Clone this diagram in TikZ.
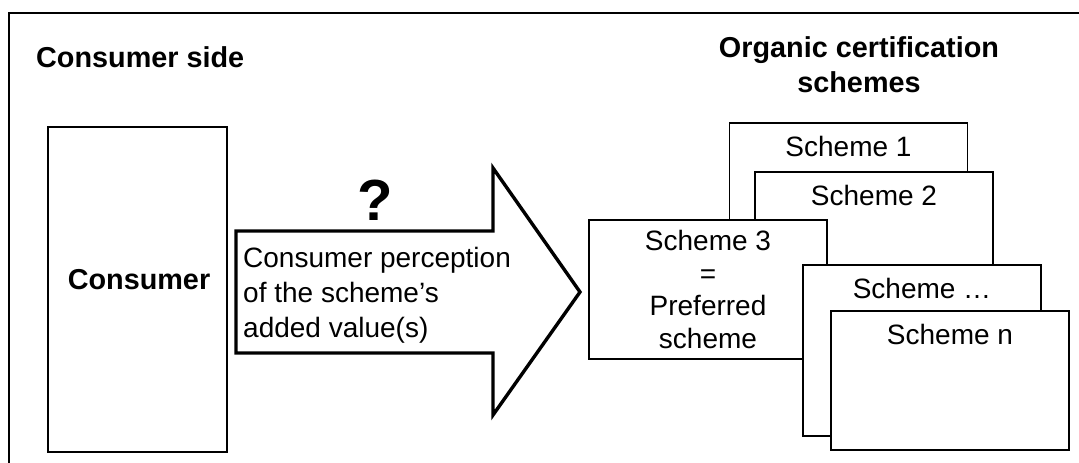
\documentclass[tikz,border=0pt]{standalone}
\usepackage{fontspec}
\setmainfont{Liberation Sans}
\begin{document}
\begin{tikzpicture}[x=1pt,y=-1pt,
  frame/.style={line width=2pt},
  box/.style={draw, line width=1.8pt, fill=white, minimum width=238pt, inner sep=0pt, outer sep=0pt},
  schemebox/.style={box, minimum height=139pt},
  txt/.style={font=\fontsize{28}{35}\selectfont, inner sep=0pt},
  btxt/.style={font=\bfseries\fontsize{28.8}{35}\selectfont, inner sep=0pt},
  arrowline/.style={line width=3.4pt, line join=miter, fill=white}
]
\useasboundingbox (0,0) rectangle (1079,463);
% outer frame (open at right and bottom)
\draw[frame] (1079,13) -- (9,13) -- (9,463);

% headings
\node[btxt, anchor=west] (hcons) at (36,57) {Consumer side};
\node[btxt, align=center] (hschemes) at (859,64.5) {Organic certification\\schemes};

% consumer box
\node[box, minimum width=179pt, minimum height=325pt] (cons) at (137.5,289.5) {};
\node[btxt] (constext) at (139,280) {Consumer};

% big arrow
\coordinate (a1) at (236,231);
\coordinate (a2) at (493,231);
\coordinate (a3) at (493,168);
\coordinate (tip) at (580,292);
\coordinate (a5) at (493,415);
\coordinate (a6) at (493,353);
\coordinate (a7) at (236,353);
\draw[arrowline] (a1) -- (a2) -- (a3) -- (tip) -- (a5) -- (a6) -- (a7) -- cycle;
\node[font=\bfseries\fontsize{58}{60}\selectfont, inner sep=0pt] (q) at (375,200) {?};
\node[txt, anchor=west, align=left] (perc) at (243,295) {Consumer perception\\of the scheme’s\\added value(s)};

% scheme boxes (back to front)
\node[schemebox] (s1) at (848.5,192.5) {};
\node[txt, anchor=north] (s1t) at ([yshift=-13.5pt]s1.north) {Scheme 1};

\node[schemebox] (s2) at (874,241.5) {};
\node[txt, anchor=north] (s2t) at ([yshift=-13.5pt]s2.north) {Scheme 2};

\node[schemebox, align=center, font=\fontsize{28}{32.5}\selectfont] (s3) at (708,289.5) {Scheme 3\\=\\Preferred\\scheme};

\node[box, minimum height=171pt] (sd) at (922,350.5) {};
\node[txt, anchor=north] (sdt) at ([yshift=-13.5pt]sd.north) {Scheme …};

\node[schemebox] (sn) at (950,380.5) {};
\node[txt, anchor=north] (snt) at ([yshift=-13.5pt]sn.north) {Scheme n};
\end{tikzpicture}
\end{document}
